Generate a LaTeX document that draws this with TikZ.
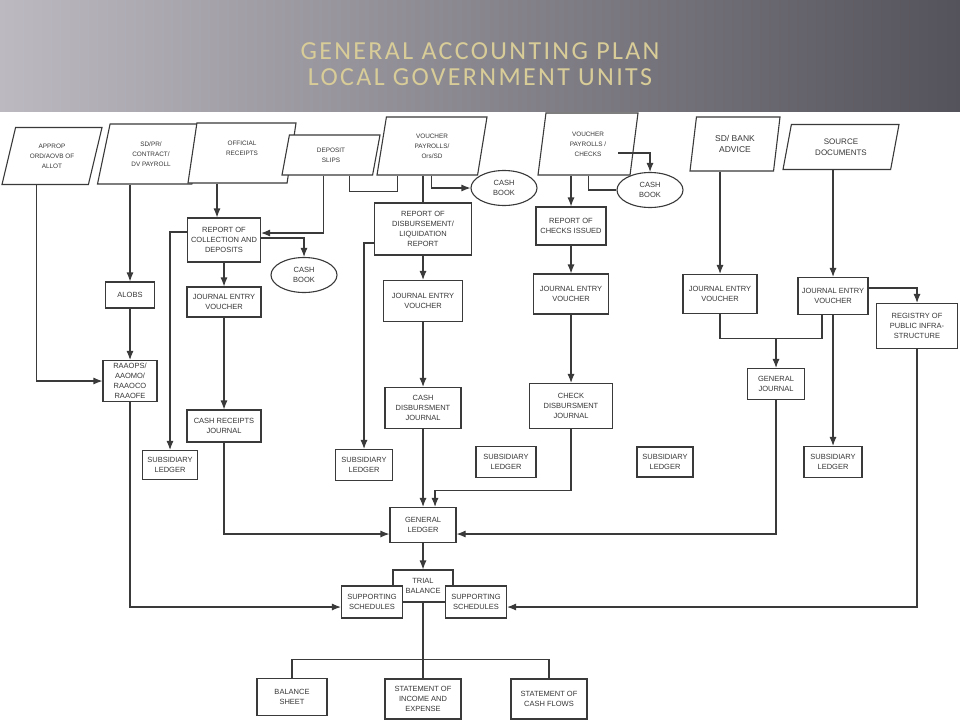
\documentclass[tikz,border=0pt]{standalone}
\usepackage{fontspec}
\setmainfont{Liberation Sans}
\newfontfamily\titlefont[LetterSpace=9]{Carlito}
\usetikzlibrary{shapes.geometric,arrows.meta,calc}
\definecolor{linegray}{RGB}{58,58,58}
\definecolor{txtgray}{RGB}{55,55,55}
\definecolor{bandlight}{RGB}{188,185,193}
\definecolor{banddark}{RGB}{84,82,90}
\definecolor{titlegold}{RGB}{216,204,152}
\begin{document}
\begin{tikzpicture}[->, >={Latex[length=9pt,width=7pt]}, x=1pt, y=-1pt, line width=1.1pt, color=linegray,
  box/.style={rectangle, draw, fill=white, align=center, inner sep=1pt, font=\fontsize{7.5}{9.8}\selectfont},
  doc/.style={trapezium, trapezium left angle=65, trapezium right angle=115, trapezium stretches body, draw, fill=white, align=center, inner sep=0pt, font=\fontsize{6.4}{10}\selectfont},
  book/.style={ellipse, draw, fill=white, align=center, inner sep=0pt, minimum width=66pt, minimum height=35pt, font=\fontsize{7.5}{9.8}\selectfont}]
        \tikzstyle{every node}=[text=txtgray]

          \path[use as bounding box, fill=white] (0,0) rectangle (960,720);
          \shade[left color=bandlight, right color=banddark] (0,0) rectangle (960,111);
          \node[font=\titlefont\fontsize{26}{26}\selectfont, text=titlegold, align=center] (title) at (480,64) {GENERAL ACCOUNTING PLAN\\LOCAL GOVERNMENT UNITS};

          % source documents
          \node[doc, trapezium left angle=61, trapezium right angle=119, minimum width=100pt, minimum height=57pt] (approp) at (52,156) {APPROP\\ORD/AOVB OF\\ALLOT};
          \node[doc, trapezium left angle=63, trapezium right angle=117, minimum width=107pt, minimum height=60pt] (sdpr) at (151,154) {SD/PR/\\CONTRACT/\\DV PAYROLL};
          \node[doc, trapezium left angle=70, trapezium right angle=110, minimum width=108pt, minimum height=60pt] (orcpt) at (242,153) {OFFICIAL\\RECEIPTS\\\mbox{}};
          \node[doc, trapezium left angle=63, trapezium right angle=117, minimum width=98pt, minimum height=40pt] (dslip) at (331,155) {DEPOSIT\\SLIPS};
          \node[doc, trapezium left angle=69, trapezium right angle=111, minimum width=110pt, minimum height=58pt] (vors) at (432,146) {VOUCHER\\PAYROLLS/\\Ors/SD};
          \node[doc, trapezium left angle=72, trapezium right angle=108, minimum width=100pt, minimum height=62pt] (vchk) at (588,144) {VOUCHER\\PAYROLLS /\\CHECKS};
          \node[doc, trapezium left angle=70, trapezium right angle=110, minimum width=90pt, minimum height=54pt, font=\fontsize{8.5}{11.5}\selectfont] (sdbank) at (735,144) {SD/ BANK\\ADVICE};
          \node[doc, trapezium left angle=64, trapezium right angle=116, minimum width=116pt, minimum height=45pt, font=\fontsize{8}{11.5}\selectfont] (srcdoc) at (841,147) {SOURCE\\DOCUMENTS};

          % cash books
          \node[book] (cb1) at (304,275) {CASH\\BOOK};
          \node[book] (cb2) at (504,188) {CASH\\BOOK};
          \node[book] (cb3) at (650,190) {CASH\\BOOK};

          % reports, vouchers and journals
          \node[box, minimum width=49pt, minimum height=26pt] (alobs) at (130,295) {ALOBS};
          \node[box, minimum width=54pt, minimum height=41pt] (raaops) at (130,381) {RAAOPS/\\AAOMO/\\RAAOCO\\RAAOFE};
          \node[box, minimum width=73pt, minimum height=44pt] (rcd) at (224,240) {REPORT OF\\COLLECTION AND\\DEPOSITS};
          \node[box, minimum width=74pt, minimum height=30pt] (jev1) at (224,302) {JOURNAL ENTRY\\VOUCHER};
          \node[box, minimum width=74pt, minimum height=32pt] (crj) at (224,426) {CASH RECEIPTS\\JOURNAL};
          \node[box, minimum width=97pt, minimum height=52pt] (rdl) at (423,229) {REPORT OF\\DISBURSEMENT/\\LIQUIDATION\\REPORT};
          \node[box, minimum width=79pt, minimum height=41pt] (jev2) at (423,301) {JOURNAL ENTRY\\VOUCHER};
          \node[box, minimum width=76pt, minimum height=41pt] (cdj) at (423,408) {CASH\\DISBURSMENT\\JOURNAL};
          \node[box, minimum width=70pt, minimum height=38pt] (rci) at (571,226) {REPORT OF\\CHECKS ISSUED};
          \node[box, minimum width=75pt, minimum height=40pt] (jev3) at (571,294) {JOURNAL ENTRY\\VOUCHER};
          \node[box, minimum width=83pt, minimum height=45pt] (ckdj) at (571,406) {CHECK\\DISBURSMENT\\JOURNAL};
          \node[box, minimum width=74pt, minimum height=39pt] (jev4) at (720,294) {JOURNAL ENTRY\\VOUCHER};
          \node[box, minimum width=70pt, minimum height=37pt] (jev5) at (833,296) {JOURNAL ENTRY\\VOUCHER};
          \node[box, minimum width=81pt, minimum height=45pt] (rpi) at (917,326) {REGISTRY OF\\PUBLIC INFRA-\\STRUCTURE};
          \node[box, minimum width=57pt, minimum height=31pt] (gj) at (776,384) {GENERAL\\JOURNAL};

          % subsidiary ledgers
          \node[box, minimum width=55pt, minimum height=29pt] (sl1) at (170,465) {SUBSIDIARY\\LEDGER};
          \node[box, minimum width=57pt, minimum height=31pt] (sl2) at (364,465) {SUBSIDIARY\\LEDGER};
          \node[box, minimum width=60pt, minimum height=31pt] (sl3) at (506,462) {SUBSIDIARY\\LEDGER};
          \node[box, minimum width=56pt, minimum height=30pt] (sl4) at (665,462) {SUBSIDIARY\\LEDGER};
          \node[box, minimum width=58pt, minimum height=31pt] (sl5) at (833,462) {SUBSIDIARY\\LEDGER};

          % ledger, trial balance and statements
          \node[box, minimum width=66pt, minimum height=35pt] (gl) at (423,525) {GENERAL\\LEDGER};
          \node[box, minimum width=60pt, minimum height=32pt] (tb) at (423,586) {TRIAL\\BALANCE};
          \node[box, minimum width=61pt, minimum height=32pt] (ssl) at (372,602) {SUPPORTING\\SCHEDULES};
          \node[box, minimum width=61pt, minimum height=32pt] (ssr) at (476,602) {SUPPORTING\\SCHEDULES};
          \node[box, minimum width=70pt, minimum height=37pt] (bs) at (292,697) {BALANCE\\SHEET};
          \node[box, minimum width=76pt, minimum height=40pt] (sie) at (423,699) {STATEMENT OF\\INCOME AND\\EXPENSE};
          \node[box, minimum width=76pt, minimum height=40pt] (scf) at (549,699) {STATEMENT OF\\CASH FLOWS};

          \coordinate (rcdin) at ([xshift=-7pt]rcd.north);
          \coordinate (jn) at ($(jev4.south)+(0,24)$);
          \coordinate (bus) at ($(tb.south)+(0,57)$);

          \path (alobs) edge (raaops)
                (rcd) edge (jev1)
                (jev1) edge (crj)
                (rdl) edge (jev2)
                (jev2) edge (cdj)
                (cdj) edge (gl)
                (rci) edge (jev3)
                (jev3) edge (ckdj)
                (jev5) edge (sl5)
                (gl) edge (tb);

          \draw ([xshift=35pt]approp.bottom left corner) |- (raaops.west);
          \draw (sdpr.bottom left corner -| alobs.north) -- (alobs.north);
          \draw (raaops.south) |- ([yshift=-5pt]ssl.west);
          \draw (orcpt.bottom left corner -| rcdin) -- (rcdin);
          \draw ([xshift=42pt]dslip.bottom left corner) |- ([yshift=7pt]rcd.east);
          \draw ([yshift=2pt]rcd.east) -| (cb1.north);
          \draw ([yshift=8pt]rcd.west) -| (sl1.north);
          \draw (crj.south) |- ([yshift=-9pt]gl.west);
          \draw[-] ([xshift=68pt]dslip.bottom left corner) -- ++(0,16) -| ([xshift=21pt]vors.bottom left corner);
          \draw[-] (vors.bottom left corner -| rdl.north) -- (rdl.north);
          \draw ([xshift=55pt]vors.bottom left corner) |- (cb2.west);
          \draw ([yshift=-14pt]rdl.west) -| (sl2.north);
          \draw (vchk.bottom left corner -| rci.north) -- (rci.north);
          \draw[-] ([xshift=51pt]vchk.bottom left corner) |- (cb3.west);
          \draw ([shift={(30,9)}]vchk.center) -| (cb3.north);
          \draw (ckdj.south) -- ++(0,61) -| ([xshift=12pt]gl.north);
          \draw (sdbank.bottom left corner -| jev4.north) -- (jev4.north);
          \draw (srcdoc.bottom left corner -| jev5.north) -- (jev5.north);
          \draw ([yshift=8pt]jev5.east) -| (rpi.north);
          \draw[-] (jev4.south) -- (jn) -| ([xshift=-11pt]jev5.south);
          \draw (jn -| gj.north) -- (gj.north);
          \draw (gj.south) |- ([yshift=-9pt]gl.east);
          \draw (rpi.south) |- ([yshift=-5pt]ssr.east);
          \draw[-] (tb.south) -- (sie.north);
          \draw[-] (bs.north) |- (bus) -| (scf.north);

\end{tikzpicture}
\end{document}
